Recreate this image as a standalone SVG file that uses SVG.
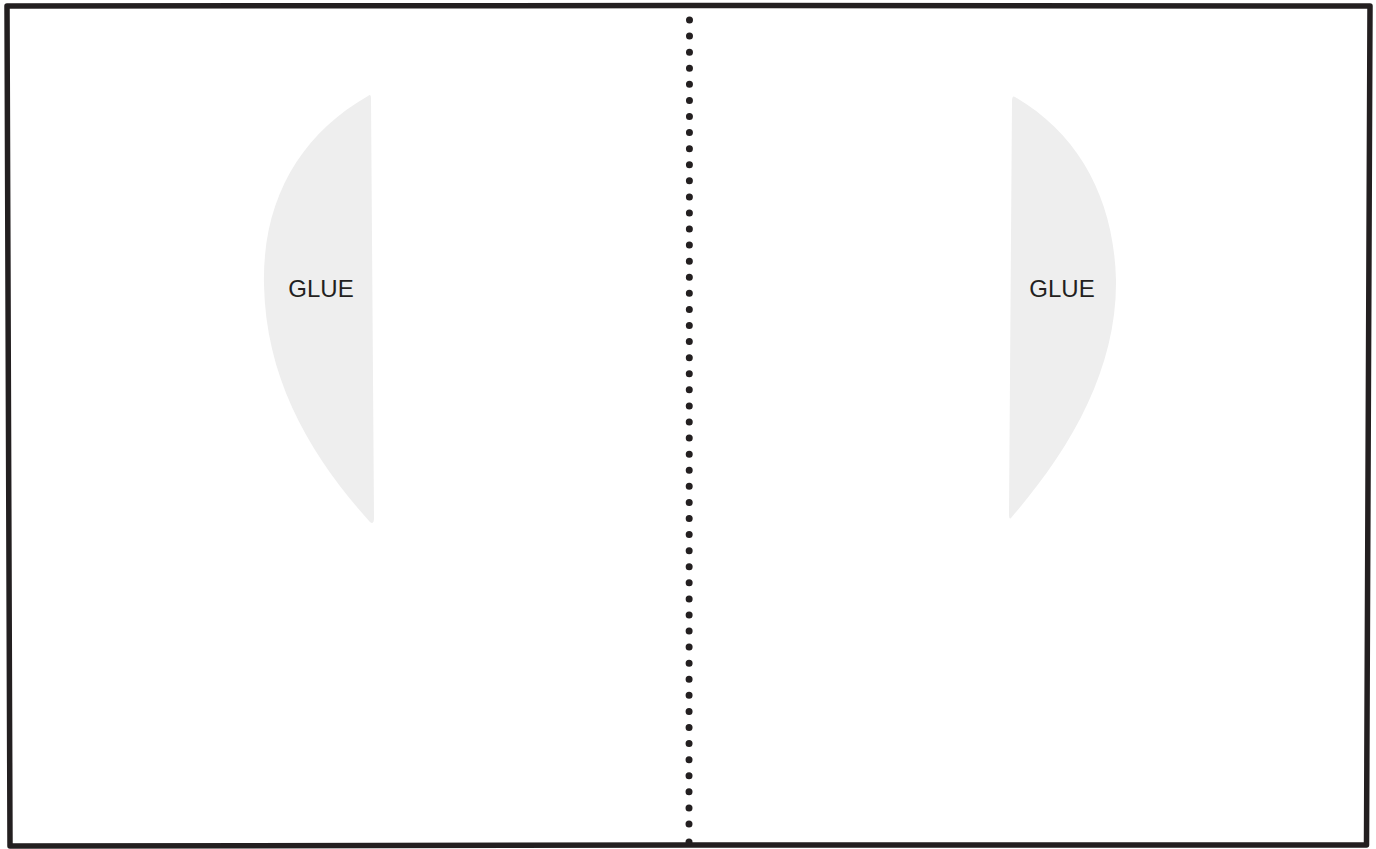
<svg xmlns="http://www.w3.org/2000/svg" width="1376" height="849" viewBox="0 0 1376 849">
  <style>
    .frame { fill: #ffffff; stroke: #231f20; stroke-width: 5.5; stroke-linejoin: round; }
    .fold { stroke: #231f20; stroke-width: 7; stroke-linecap: round; stroke-dasharray: 0 16.08; fill: none; }
    .glue { fill: #eeeeee; stroke: none; }
    .label { font-family: "Liberation Sans", Arial, sans-serif; font-size: 24px; fill: #231f20; text-anchor: middle; }
  </style>
  <rect width="1376" height="849" fill="#ffffff"/>
  <g id="sheet">
    <path class="frame" d="M 7,6 L 688,5.5 L 1370,6 L 1366.5,845 L 689,845 L 10,846 Z"/>
  </g>
  <g id="fold-line">
    <line class="fold" x1="689.5" y1="20" x2="689" y2="826"/>
    <circle cx="689" cy="842" r="3.5" fill="#231f20"/>
  </g>
  <g id="glue-left">
    <path class="glue" d="M 368,96 C 300,135 262,200 264,285 C 266,380 310,455 370,522 Q 374,525 374,518 L 371,98 Q 371,93 368,96 Z"/>
    <text class="label" x="321" y="297">GLUE</text>
  </g>
  <g id="glue-right">
    <path class="glue" d="M 1015,97 C 1080,135 1114,200 1116,280 C 1117,370 1070,450 1011,518 Q 1009,520 1009,514 L 1012,101 Q 1012,95 1015,97 Z"/>
    <text class="label" x="1062" y="297">GLUE</text>
  </g>
</svg>
